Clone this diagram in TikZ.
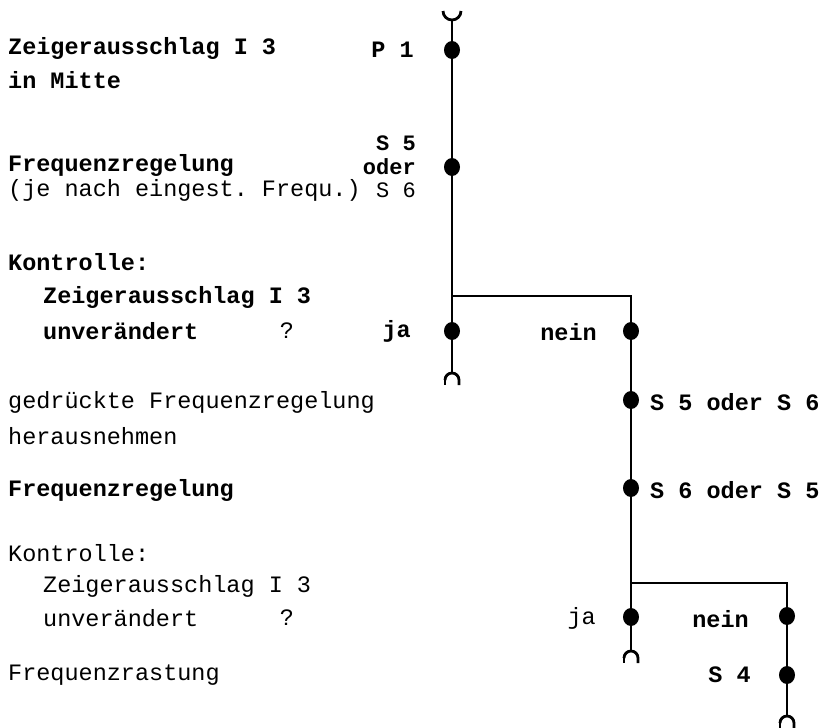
\documentclass[tikz,border=0pt]{standalone}
\usepackage{fontspec}
\setmonofont{Liberation Mono}
\usetikzlibrary{shapes.geometric}
\begin{document}
\begin{tikzpicture}[x=1pt, y=-1pt,
	k/.style = {ellipse, fill=black, inner sep=0, minimum width=16, minimum height=18},
	t/.style = {anchor=west, inner sep=0, font=\ttfamily\fontsize{23.5}{26}\selectfont},
	tb/.style = {t, font=\ttfamily\bfseries\fontsize{23.5}{26}\selectfont},
	r/.style = {line width=2.8pt}
	]
	\useasboundingbox (0,0) rectangle (823,728);
	
	% ===== ===== ===== ===== =====
	
	% Nodes
	\coordinate		(top)	at	(452, 20);
	\node[k]	(p1)	at	(452, 50)	{};
	\node[k]	(s56)	at	(452, 167)	{};
	\coordinate		(g1)	at	(452, 296);
	\node[k]	(ja1)	at	(452, 331)	{};
	\coordinate		(e1)	at	(452, 373);
	
	\coordinate		(g1r)	at	(631, 296);
	\node[k]	(nein1)	at	(631, 331)	{};
	\node[k]	(s56b)	at	(631, 400)	{};
	\node[k]	(s65)	at	(631, 488)	{};
	\coordinate		(g2)	at	(631, 583);
	\node[k]	(ja2)	at	(631, 617)	{};
	\coordinate		(e2)	at	(631, 651);
	
	\coordinate		(g2r)	at	(787, 583);
	\node[k]	(nein2)	at	(787, 616)	{};
	\node[k]	(s4)	at	(787, 675)	{};
	\coordinate		(e3)	at	(787, 716);
	
	% Texts
	\node[tb]	(z1)	at	(8, 48)		{Zeigerausschlag I 3};
	\node[tb, anchor=east]	(lp1)	at	(414, 50)	{P 1};
	\node[tb]	(z2)	at	(8, 80)		{in Mitte};
	\node[tb]	(z3)	at	(8, 165)	{Frequenzregelung};
	\node[tb, anchor=east, font=\ttfamily\bfseries\fontsize{22}{24}\selectfont]	(ls5)	at	(416, 143)	{S 5};
	\node[tb, anchor=east, font=\ttfamily\bfseries\fontsize{22}{24}\selectfont]	(lod)	at	(416, 167)	{oder};
	\node[t]	(z4)	at	(8, 190)	{(je nach eingest. Frequ.)};
	\node[t, anchor=east, font=\ttfamily\fontsize{22}{24}\selectfont]	(ls6)	at	(416, 190)	{S 6};
	
	\node[tb]	(z5)	at	(8, 262)	{Kontrolle:};
	\node[tb]	(z6)	at	(43, 297)	{Zeigerausschlag I 3};
	\node[tb]	(z7)	at	(43, 331)	{unverändert};
	\node[t, anchor=center]	(q1)	at	(287, 331)	{?};
	\node[tb, anchor=east]	(lja1)	at	(411, 331)	{ja};
	\node[tb, anchor=east]	(lnein1)	at	(597, 332)	{nein};
	
	\node[t]	(z8)	at	(8, 402)	{gedrückte Frequenzregelung};
	\node[t]	(z9)	at	(8, 436)	{herausnehmen};
	\node[tb]	(ls56)	at	(650, 402)	{S 5 oder S 6};
	\node[tb]	(z10)	at	(8, 490)	{Frequenzregelung};
	\node[tb]	(ls65)	at	(650, 490)	{S 6 oder S 5};
	
	\node[t]	(z11)	at	(8, 553)	{Kontrolle:};
	\node[t]	(z12)	at	(43, 586)	{Zeigerausschlag I 3};
	\node[t]	(z13)	at	(43, 618)	{unverändert};
	\node[t, anchor=center]	(q2)	at	(287, 618)	{?};
	\node[t, anchor=east]	(lja2)	at	(596, 618)	{ja};
	\node[tb, anchor=east]	(lnein2)	at	(749, 619)	{nein};
	\node[t]	(z14)	at	(8, 675)	{Frequenzrastung};
	\node[tb, anchor=east]	(ls4)	at	(751, 675)	{S 4};
	
	% Lines
	\draw[r]	(top)	--	(p1)	--	(s56)	--	(ja1)	--	(e1);
	\draw[r]	(g1)	--	(g1r)	--	(nein1)	--	(s56b)	--	(s65)	--	(ja2)	--	(e2);
	\draw[r]	(g2)	--	(g2r)	--	(nein2)	--	(s4)	--	(e3);
	
	% Ends
	\draw[r]	(top)	++(-9pt, 9pt)	arc[start angle=180, end angle=360, radius=9pt];
	\draw[r]	(e1)	++(-7pt, -7pt)	arc[start angle=180, end angle=0, radius=7pt]	--	++(0, -5pt);
	\draw[r]	(e1)	++(-7pt, -7pt)	--	++(0, -5pt);
	\draw[r]	(e2)	++(-7pt, -7pt)	arc[start angle=180, end angle=0, radius=7pt]	--	++(0, -5pt);
	\draw[r]	(e2)	++(-7pt, -7pt)	--	++(0, -5pt);
	\draw[r]	(e3)	++(-7pt, -7pt)	arc[start angle=180, end angle=0, radius=7pt]	--	++(0, -5pt);
	\draw[r]	(e3)	++(-7pt, -7pt)	--	++(0, -5pt);
	
\end{tikzpicture}
\end{document}
